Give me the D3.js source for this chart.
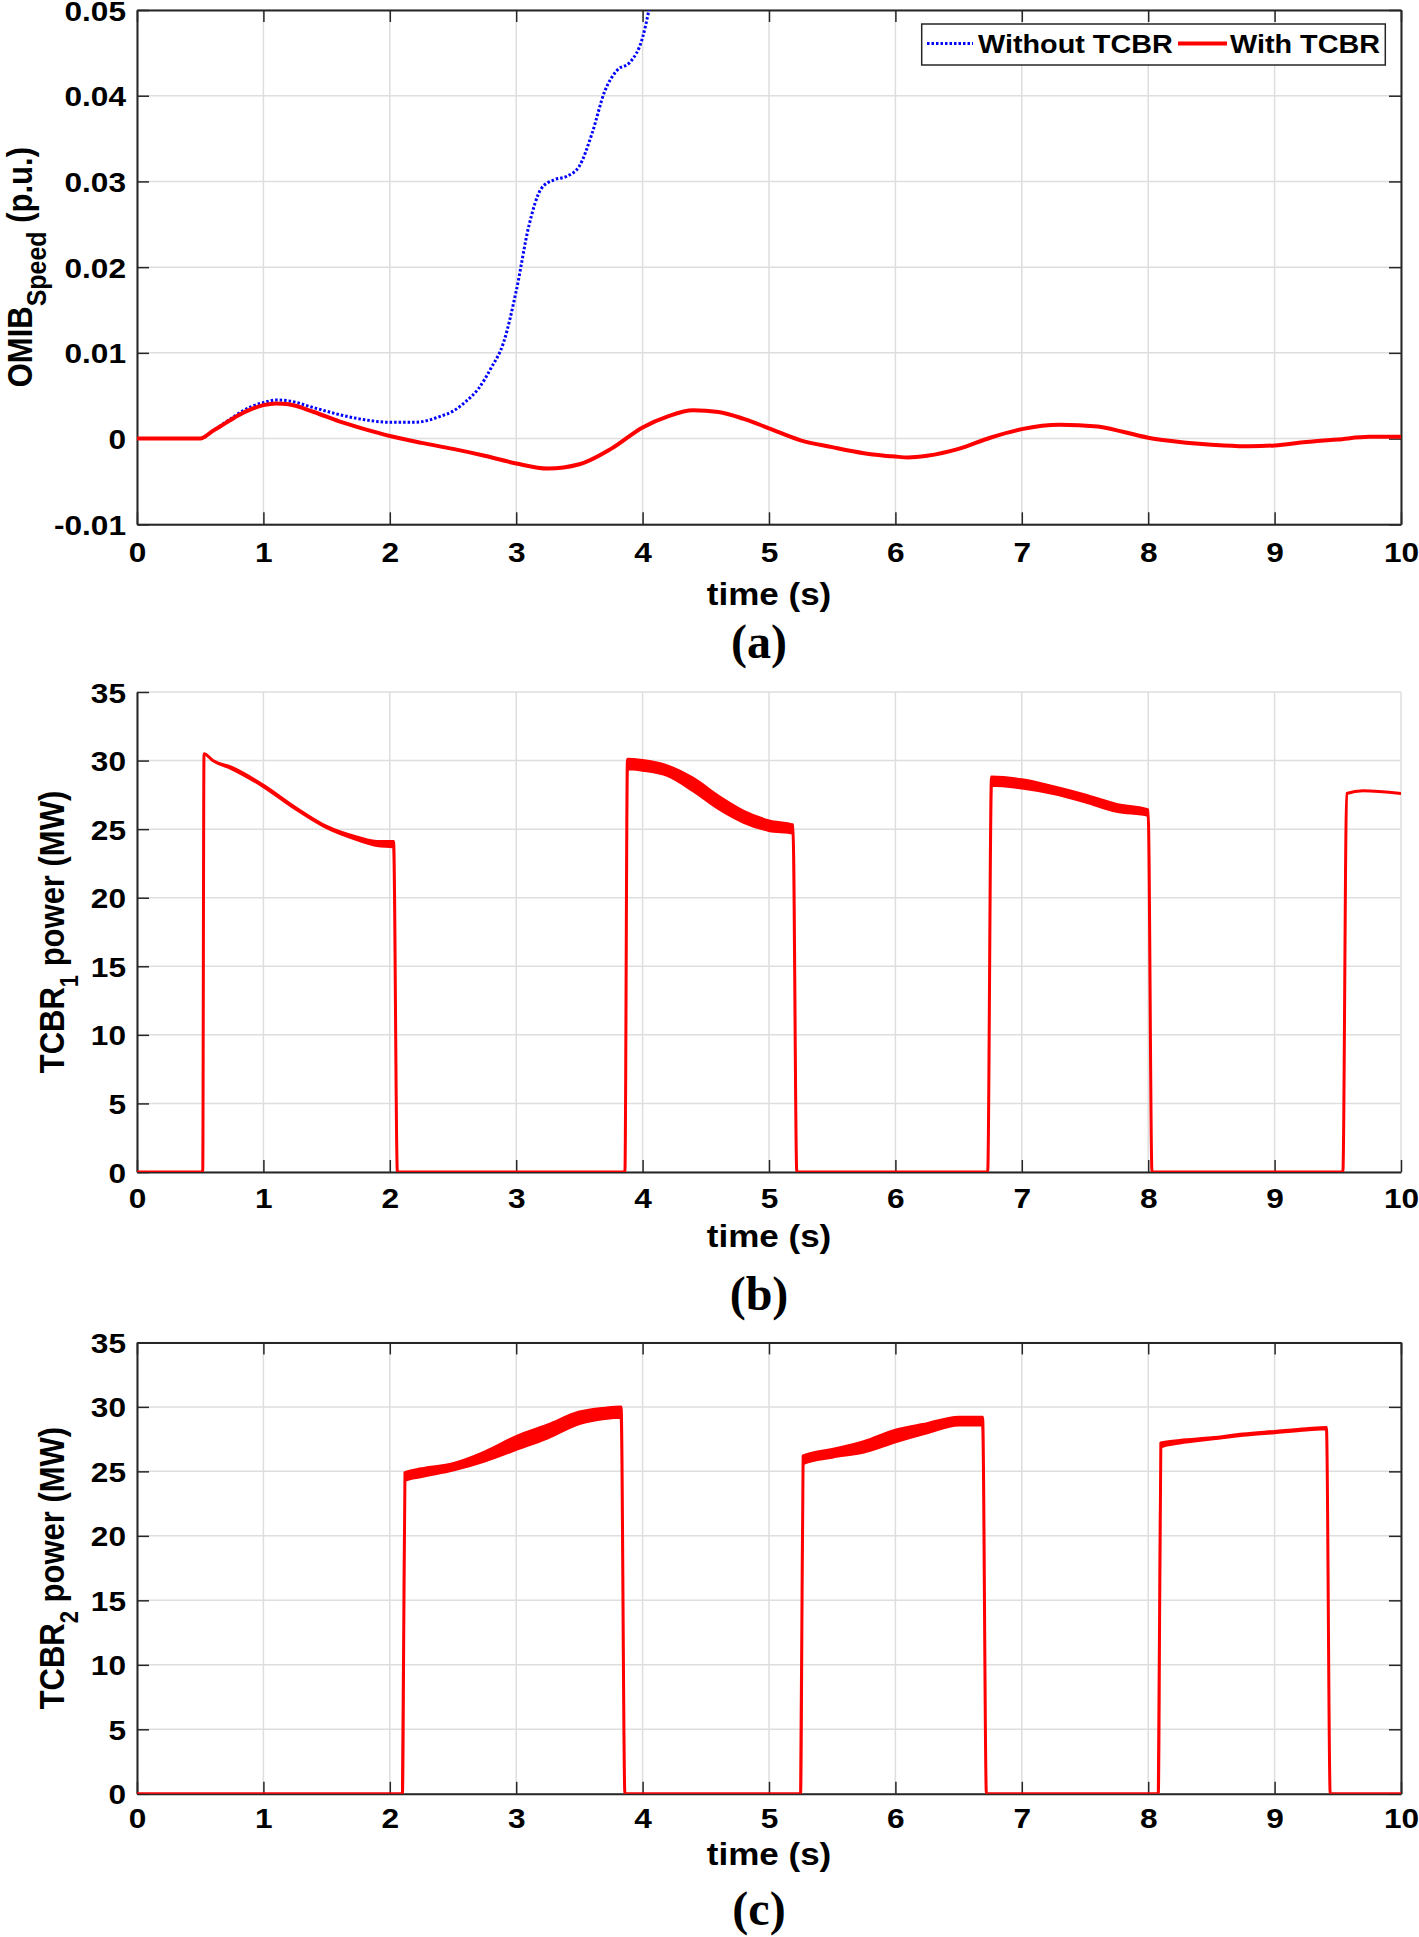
<!DOCTYPE html>
<meta charset="utf-8">
<head>
<script src="https://d3js.org/d3.v7.min.js"></script>
<style>
  body { margin: 0; background: #fff; }
  text { font-family: "Liberation Sans", Arial, sans-serif; font-weight: bold; fill: #000; }
  .caption { font-family: "Liberation Serif", "Times New Roman", serif; font-size: 48px; }
  .grid line { stroke: #dedede; stroke-width: 1.5; }
</style>
</head>
<body>
<div id="graph"></div>
<script>
// ticks
var timeTicks = [0, 1, 2, 3, 4, 5, 6, 7, 8, 9, 10];
var speedTicks = [-0.01, 0, 0.01, 0.02, 0.03, 0.04, 0.05];
var speedTickLabels = ["-0.01", "0", "0.01", "0.02", "0.03", "0.04", "0.05"];
var powerTicks = [0, 5, 10, 15, 20, 25, 30, 35];
var powerTickLabels = ["0", "5", "10", "15", "20", "25", "30", "35"];
var legendLabels = ["Without TCBR", "With TCBR"];

// (a) OMIB speed (p.u.)
var speedWithTime = [0, 0.5, 0.6, 0.7, 0.8, 0.9, 1.0, 1.1, 1.2, 1.4, 1.6, 1.8, 2.0, 2.25, 2.5, 2.75, 3.0, 3.25, 3.5, 3.75, 4.0, 4.2, 4.4, 4.6, 4.8, 5.0, 5.25, 5.5, 5.75, 6.0, 6.1, 6.25, 6.5, 6.75, 7.0, 7.3, 7.6, 7.8, 8.0, 8.2, 8.4, 8.6, 8.8, 9.0, 9.25, 9.5, 9.75, 10];
var speedWith = [0, 0, 0.0009, 0.0018, 0.0027, 0.0034, 0.0039, 0.0041, 0.0040, 0.0031, 0.0020, 0.0011, 0.0003, -0.0005, -0.0012, -0.0020, -0.0029, -0.0035, -0.0030, -0.0012, 0.0013, 0.0026, 0.0033, 0.0031, 0.0023, 0.0012, -0.0002, -0.0010, -0.0017, -0.0021, -0.0022, -0.0020, -0.0012, 0.0001, 0.0011, 0.0016, 0.0014, 0.0008, 0.0001, -0.0003, -0.0006, -0.0008, -0.0009, -0.0008, -0.0004, -0.0001, 0.0002, 0.0002];
var speedWithoutTime = [0, 0.5, 0.6, 0.7, 0.8, 0.9, 1.0, 1.1, 1.2, 1.4, 1.6, 1.8, 2.0, 2.2, 2.4, 2.5, 2.6, 2.7, 2.8, 2.9, 3.0, 3.1, 3.2, 3.3, 3.4, 3.5, 3.6, 3.7, 3.8, 3.9, 4.0, 4.05, 4.1];
var speedWithout = [0, 0, 0.0009, 0.0019, 0.0029, 0.0037, 0.0042, 0.0045, 0.0044, 0.0036, 0.0028, 0.0022, 0.0019, 0.0019, 0.0026, 0.0032, 0.0043, 0.0058, 0.0082, 0.0112, 0.0172, 0.0248, 0.0292, 0.0302, 0.0306, 0.0318, 0.0356, 0.0405, 0.0430, 0.0439, 0.0468, 0.0500, 0.0540];

// (b) TCBR1 power (MW): lower / upper edge of the trace
var tcbr1Time = [0, 0.52, 0.53, 0.6, 0.75, 1.0, 1.25, 1.5, 1.75, 1.9, 2.03, 2.06, 3.86, 3.88, 4.0, 4.2, 4.4, 4.6, 4.8, 5.0, 5.19, 5.22, 6.73, 6.76, 7.0, 7.25, 7.5, 7.75, 8.0, 8.03, 9.54, 9.57, 9.7, 10];
var tcbr1High = [0, 0, 30.5, 30.0, 29.5, 28.2, 26.6, 25.2, 24.4, 24.1, 24.1, 0, 0, 30.1, 30.0, 29.6, 28.7, 27.4, 26.3, 25.6, 25.3, 0, 0, 28.8, 28.6, 28.1, 27.5, 26.8, 26.4, 0, 0, 27.6, 27.8, 27.6];
var tcbr1Low = [0, 0, 30.5, 30.0, 29.4, 28.1, 26.5, 25.1, 24.2, 23.8, 23.7, 0, 0, 29.4, 29.3, 28.9, 27.8, 26.5, 25.5, 24.9, 24.7, 0, 0, 28.2, 28.0, 27.6, 27.0, 26.3, 26.0, 0, 0, 27.6, 27.8, 27.6];

// (c) TCBR2 power (MW)
var tcbr2Time = [0, 2.10, 2.12, 2.25, 2.5, 2.75, 3.0, 3.25, 3.5, 3.7, 3.83, 3.86, 5.25, 5.27, 5.5, 5.75, 6.0, 6.25, 6.5, 6.69, 6.72, 8.08, 8.10, 8.25, 8.5, 8.75, 9.0, 9.25, 9.41, 9.44, 10];
var tcbr2High = [0, 0, 24.9, 25.2, 25.6, 26.5, 27.7, 28.6, 29.6, 29.9, 30.0, 0, 0, 26.2, 26.7, 27.3, 28.2, 28.7, 29.2, 29.2, 0, 0, 27.2, 27.4, 27.6, 27.9, 28.1, 28.3, 28.4, 0, 0];
var tcbr2Low = [0, 0, 24.3, 24.6, 25.1, 25.8, 26.7, 27.6, 28.7, 29.1, 29.2, 0, 0, 25.6, 26.1, 26.5, 27.3, 28.0, 28.6, 28.6, 0, 0, 26.9, 27.2, 27.5, 27.8, 28.0, 28.2, 28.3, 0, 0];

var width = 1419, height = 1937;
var xLeft = 137, xRight = 1401;
var stretch = 1.13;   // text in the figure is a bit wider than tall

var svg = d3.select("#graph").append("svg")
    .attr("width", width)
    .attr("height", height);

var x = d3.scaleLinear().domain([0, 10]).range([xLeft, xRight]);

var panels = [
  { id: "a", top: 10, bottom: 524.3, domain: [-0.01, 0.05], ticks: speedTicks, tickLabels: speedTickLabels,
    box: true, label: [["OMIB", 0], ["Speed", 1], [" (p.u.)", 0]], labelX: 32, subSize: 25,
    tickOff: 38, titleOff: 81, captionY: 658, caption: "(a)" },
  { id: "b", top: 692, bottom: 1172, domain: [0, 35], ticks: powerTicks, tickLabels: powerTickLabels,
    box: false, label: [["TCBR", 0], ["1", 1], [" power (MW)", 0]], labelX: 64, subSize: 22,
    tickOff: 36, titleOff: 75, captionY: 1310, caption: "(b)" },
  { id: "c", top: 1342.4, bottom: 1793.8, domain: [0, 35], ticks: powerTicks, tickLabels: powerTickLabels,
    box: true, label: [["TCBR", 0], ["2", 1], [" power (MW)", 0]], labelX: 64, subSize: 22,
    tickOff: 34, titleOff: 71, captionY: 1925, caption: "(c)" }
];

function drawPanel(p) {
  var y = d3.scaleLinear().domain(p.domain).range([p.bottom, p.top]);
  var g = svg.append("g");

  // grid
  var grid = g.append("g").attr("class", "grid");
  grid.selectAll(".gx").data(timeTicks).enter().append("line")
      .attr("x1", d => x(d)).attr("x2", d => x(d))
      .attr("y1", p.top).attr("y2", p.bottom);
  grid.selectAll(".gy").data(p.ticks).enter().append("line")
      .attr("x1", xLeft).attr("x2", xRight)
      .attr("y1", d => y(d)).attr("y2", d => y(d));

  // clip
  g.append("clipPath").attr("id", "clip-" + p.id)
    .append("rect").attr("x", xLeft).attr("y", p.top)
      .attr("width", xRight - xLeft).attr("height", p.bottom - p.top);

  // axes
  var xAxis = g.append("g")
      .attr("transform", "translate(0," + p.bottom + ")")
      .call(d3.axisBottom(x).tickValues(timeTicks).tickSizeInner(-12).tickSizeOuter(0).tickFormat(d3.format("d")));
  var yAxis = g.append("g")
      .attr("transform", "translate(" + xLeft + ",0)")
      .call(d3.axisLeft(y).tickValues(p.ticks).tickSizeInner(-12).tickSizeOuter(0)
        .tickFormat((d, i) => p.tickLabels[i]));

  if (p.box) {
    g.append("g").attr("transform", "translate(0," + p.top + ")")
      .call(d3.axisTop(x).tickValues(timeTicks).tickSizeInner(-12).tickSizeOuter(0).tickFormat(""));
    g.append("g").attr("transform", "translate(" + xRight + ",0)")
      .call(d3.axisRight(y).tickValues(p.ticks).tickSizeInner(-12).tickSizeOuter(0).tickFormat(""));
  }

  g.selectAll(".domain").attr("stroke", "#262626").attr("stroke-width", 2);
  g.selectAll(".tick line").attr("stroke", "#262626").attr("stroke-width", 1.5);

  xAxis.selectAll(".tick text")
      .attr("y", null).attr("dy", null)
      .style("font-size", "28px")
      .attr("transform", "translate(0," + p.tickOff + ") scale(" + stretch + ",1)");
  yAxis.selectAll(".tick text")
      .attr("x", null).attr("dy", "0.36em")
      .style("font-size", "28px")
      .attr("transform", "translate(-11,0) scale(" + stretch + ",1)");

  // x title
  g.append("text")
      .attr("text-anchor", "middle")
      .style("font-size", "31px")
      .attr("transform", "translate(" + (xLeft + xRight) / 2 + "," + (p.bottom + p.titleOff) + ") scale(" + stretch + ",1)")
      .text("time (s)");

  // y title with subscript
  var yl = g.append("text")
      .attr("text-anchor", "middle")
      .style("font-size", "31px")
      .attr("transform", "translate(" + p.labelX + "," + (p.top + p.bottom) / 2 + ") scale(" + stretch + ",1) rotate(-90)");
  var shift = 0;
  p.label.forEach(function(part) {
    var ts = yl.append("tspan").text(part[0]);
    if (part[1]) {
      ts.attr("dy", 12).style("font-size", p.subSize + "px");
      shift = 12;
    } else if (shift) {
      ts.attr("dy", -shift);
      shift = 0;
    }
  });

  // caption
  g.append("text")
      .attr("class", "caption")
      .attr("text-anchor", "middle")
      .attr("x", 759)
      .attr("y", p.captionY)
      .text(p.caption);

  return { g: g, y: y };
}

var pa = drawPanel(panels[0]);
var pb = drawPanel(panels[1]);
var pc = drawPanel(panels[2]);

// (a) lines
var lineA = function(times, vals) {
  return d3.line()
    .x(i => x(times[i]))
    .y(i => pa.y(vals[i]))
    .curve(d3.curveMonotoneX)(d3.range(times.length));
};
var series = pa.g.append("g").attr("clip-path", "url(#clip-a)");
series.append("path")
    .attr("d", lineA(speedWithoutTime, speedWithout))
    .attr("fill", "none")
    .attr("stroke", "#0000ff")
    .attr("stroke-width", 3)
    .attr("stroke-dasharray", "2.5,2");
series.append("path")
    .attr("d", lineA(speedWithTime, speedWith))
    .attr("fill", "none")
    .attr("stroke", "#ff0000")
    .attr("stroke-width", 4)
    .attr("stroke-linejoin", "round");

// (b), (c) power traces as thin bands
function drawBand(panel, id, times, lo, hi) {
  var area = d3.area()
    .x(i => x(times[i]))
    .y0(i => panel.y(lo[i]))
    .y1(i => panel.y(hi[i]))
    .curve(d3.curveMonotoneX);
  panel.g.append("path")
    .attr("clip-path", "url(#clip-" + id + ")")
    .attr("d", area(d3.range(times.length)))
    .attr("fill", "#ff0000")
    .attr("stroke", "#ff0000")
    .attr("stroke-width", 3)
    .attr("stroke-linejoin", "round");
}
drawBand(pb, "b", tcbr1Time, tcbr1Low, tcbr1High);
drawBand(pc, "c", tcbr2Time, tcbr2Low, tcbr2High);

// legend (panel a)
var leg = pa.g.append("g");
leg.append("rect")
    .attr("x", 921.7).attr("y", 24)
    .attr("width", 463.6).attr("height", 41)
    .attr("fill", "#fff").attr("stroke", "#262626").attr("stroke-width", 1.5);
leg.append("line")
    .attr("x1", 927).attr("x2", 973).attr("y1", 43.5).attr("y2", 43.5)
    .attr("stroke", "#0000ff").attr("stroke-width", 3).attr("stroke-dasharray", "2.5,2");
leg.append("line")
    .attr("x1", 1178).attr("x2", 1227).attr("y1", 43.5).attr("y2", 43.5)
    .attr("stroke", "#ff0000").attr("stroke-width", 4);
[[978, legendLabels[0]], [1230, legendLabels[1]]].forEach(function(d) {
  leg.append("text")
      .style("font-size", "25.5px")
      .attr("transform", "translate(" + d[0] + ",53) scale(" + stretch + ",1)")
      .text(d[1]);
});
</script>
</body>
